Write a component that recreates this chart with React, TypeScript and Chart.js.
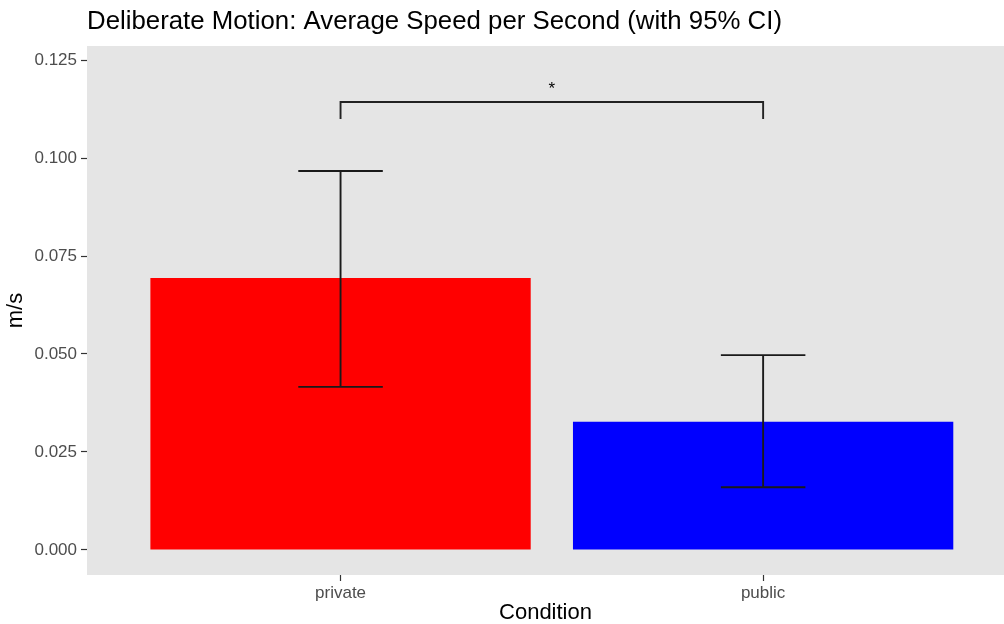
import React, { useEffect, useRef } from "react";
import { Chart, registerables } from "chart.js";

Chart.register(...registerables);

const categories = ["private", "public"];
const means = [0.0694, 0.0327];
const ciLower = [0.0416, 0.016];
const ciUpper = [0.0967, 0.0497];
const barColors = ["#FF0000", "#0000FF"];
const yTicks = [0, 0.025, 0.05, 0.075, 0.1, 0.125];
const bracketY = 0.1143;
const bracketTip = 0.110;
const bracketLabel = "*";
const chartTitle = "Deliberate Motion: Average Speed per Second (with 95% CI)";
const xTitle = "Condition";
const yTitle = "m/s";

const FONT = "'Liberation Sans', Arial, Helvetica, sans-serif";

const overlay = {
  id: "overlay",
  beforeDraw(chart: any) {
    const { ctx, chartArea } = chart;
    ctx.save();
    ctx.fillStyle = "#FFFFFF";
    ctx.fillRect(0, 0, chart.width, chart.height);
    ctx.fillStyle = "#E5E5E5";
    ctx.fillRect(chartArea.left, chartArea.top, chartArea.right - chartArea.left, chartArea.bottom - chartArea.top);
    ctx.fillStyle = "#000000";
    ctx.font = `25.8px ${FONT}`;
    ctx.textAlign = "left";
    ctx.textBaseline = "middle";
    ctx.fillText(chartTitle, chartArea.left, 22);
    ctx.restore();
  },
  afterDatasetsDraw(chart: any) {
    const { ctx } = chart;
    const xs = chart.scales.x;
    const ys = chart.scales.y;
    ctx.save();
    ctx.strokeStyle = "#1A1A1A";
    ctx.lineWidth = 1.9;
    ctx.lineCap = "butt";
    for (let i = 0; i < categories.length; i++) {
      const xc = xs.getPixelForValue(i + 1);
      const xl = xs.getPixelForValue(i + 1 - 0.1);
      const xr = xs.getPixelForValue(i + 1 + 0.1);
      const yu = ys.getPixelForValue(ciUpper[i]);
      const yl = ys.getPixelForValue(ciLower[i]);
      ctx.beginPath();
      ctx.moveTo(xl, yu);
      ctx.lineTo(xr, yu);
      ctx.moveTo(xc, yu);
      ctx.lineTo(xc, yl);
      ctx.moveTo(xl, yl);
      ctx.lineTo(xr, yl);
      ctx.stroke();
    }
    const bx1 = xs.getPixelForValue(1);
    const bx2 = xs.getPixelForValue(2);
    const by = ys.getPixelForValue(bracketY);
    const bt = ys.getPixelForValue(bracketTip);
    ctx.strokeStyle = "#222222";
    ctx.lineWidth = 1.9;
    ctx.beginPath();
    ctx.moveTo(bx1, bt);
    ctx.lineTo(bx1, by);
    ctx.lineTo(bx2, by);
    ctx.lineTo(bx2, bt);
    ctx.stroke();
    ctx.fillStyle = "#000000";
    ctx.font = `17px ${FONT}`;
    ctx.textAlign = "center";
    ctx.textBaseline = "alphabetic";
    ctx.fillText(bracketLabel, (bx1 + bx2) / 2, by - 8);
    ctx.restore();
  },
};

export default function App() {
  const ref = useRef<HTMLCanvasElement>(null);
  useEffect(() => {
    document.body.style.margin = "0";
    const canvas = ref.current!;
    const chart = new Chart(canvas, {
      type: "bar",
      data: {
        datasets: [
          {
            data: categories.map((c, i) => ({ x: i + 1, y: means[i] })),
            backgroundColor: barColors,
            borderWidth: 0,
            categoryPercentage: 1,
            barPercentage: 0.9,
          },
        ],
      },
      options: {
        responsive: false,
        animation: false,
        layout: { padding: { top: 46, left: 0, right: 0, bottom: 0 } },
        plugins: {
          legend: { display: false },
          tooltip: { enabled: false },
          title: { display: false },
        },
        scales: {
          x: {
            type: "linear",
            offset: false,
            min: 0.4,
            max: 2.57,
            afterBuildTicks: (s: any) => {
              s.ticks = categories.map((c, i) => ({ value: i + 1 }));
            },
            afterFit: (s: any) => {
              s.height = 49;
            },
            ticks: {
              callback: (v: any) => categories[Math.round(v) - 1],
              color: "#4D4D4D",
              font: { family: FONT, size: 17 },
              padding: 2,
              maxRotation: 0,
              autoSkip: false,
            },
            grid: {
              offset: false,
              drawOnChartArea: false,
              drawTicks: true,
              tickLength: 6,
              tickColor: "#333333",
              tickWidth: 1.2,
            },
            border: { display: false },
            title: {
              display: true,
              text: xTitle,
              color: "#000000",
              font: { family: FONT, size: 22, lineHeight: 1 },
              padding: 0,
            },
          },
          y: {
            type: "linear",
            min: -0.0064,
            max: 0.1286,
            afterBuildTicks: (s: any) => {
              s.ticks = yTicks.map((v) => ({ value: v }));
            },
            afterFit: (s: any) => {
              s.width = 87;
            },
            ticks: {
              callback: (v: any) => Number(v).toFixed(3),
              color: "#4D4D4D",
              font: { family: FONT, size: 17 },
              padding: 4,
              autoSkip: false,
            },
            grid: {
              drawOnChartArea: false,
              drawTicks: true,
              tickLength: 6,
              tickColor: "#333333",
              tickWidth: 1.2,
            },
            border: { display: false },
            title: {
              display: true,
              text: yTitle,
              color: "#000000",
              font: { family: FONT, size: 22, lineHeight: 1 },
              padding: { top: 5, bottom: 0 },
            },
          },
        },
      },
      plugins: [overlay],
    } as any);
    return () => chart.destroy();
  }, []);
  return (
    <div style={{ position: "fixed", left: 0, top: 0, width: 1004, height: 624, background: "#fff" }}>
      <canvas ref={ref} width={1004} height={624} style={{ display: "block" }} />
    </div>
  );
}
